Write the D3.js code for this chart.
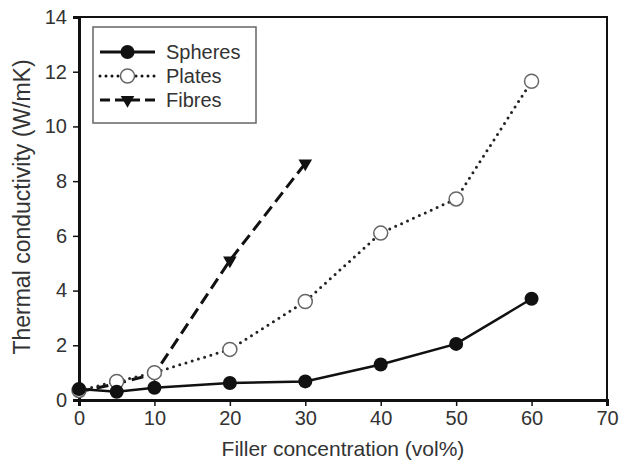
<!DOCTYPE html>
<html>
<head>
<meta charset="utf-8">
<script src="https://cdn.jsdelivr.net/npm/d3@7"></script>
<style>
  body { margin: 0; background: #fff; }
  text { font-family: "Liberation Sans", Arial, sans-serif; fill: #222; }
</style>
</head>
<body>
<div id="chart"></div>
<script>
// data
const xTicks = [0, 10, 20, 30, 40, 50, 60, 70];
const yTicks = [0, 2, 4, 6, 8, 10, 12, 14];

const spheresX = [0, 5, 10, 20, 30, 40, 50, 60];
const spheresY = [0.4, 0.3, 0.45, 0.62, 0.68, 1.3, 2.05, 3.7];

const platesX = [0, 5, 10, 20, 30, 40, 50, 60];
const platesY = [0.35, 0.68, 1.0, 1.85, 3.6, 6.1, 7.35, 11.65];

const fibresX = [0, 5, 10, 20, 30];
const fibresY = [0.3, 0.6, 0.95, 5.1, 8.65];

const seriesNames = ['Spheres', 'Plates', 'Fibres'];

const width = 621, height = 465;
const margin = { left: 79, right: 14, top: 17, bottom: 65 };

const svg = d3.select('#chart')
  .append('svg')
  .attr('width', width)
  .attr('height', height);

const x = d3.scaleLinear().domain([0, 70]).range([margin.left, width - margin.right]);
const y = d3.scaleLinear().domain([0, 14]).range([height - margin.bottom, margin.top]);

// cadre (haut/droite plus fins)
svg.append('rect')
  .attr('x', x(0)).attr('y', y(14))
  .attr('width', x(70) - x(0)).attr('height', y(0) - y(14))
  .style('fill', 'none').style('stroke', '#111').style('stroke-width', 2);

// axes
const xAxis = svg.append('g')
  .attr('transform', `translate(0, ${y(0)})`)
  .call(d3.axisBottom(x).tickValues(xTicks).tickSize(6).tickPadding(5));
const yAxis = svg.append('g')
  .attr('transform', `translate(${x(0)}, 0)`)
  .call(d3.axisLeft(y).tickValues(yTicks).tickSize(6).tickPadding(6));

[xAxis, yAxis].forEach(g => {
  g.select('.domain').style('stroke', '#111').style('stroke-width', 3);
  g.selectAll('.tick line').style('stroke', '#111').style('stroke-width', 1.5);
  g.selectAll('.tick text').style('font-size', '20px').style('fill', '#333');
});

// titres des axes
svg.append('text')
  .attr('x', (x(0) + x(70)) / 2)
  .attr('y', 456)
  .style('text-anchor', 'middle')
  .style('font-size', '21px')
  .style('fill', '#333')
  .text('Filler concentration (vol%)');

svg.append('text')
  .attr('transform', 'rotate(-90)')
  .attr('x', -207)
  .attr('y', 30)
  .style('text-anchor', 'middle')
  .style('font-size', '23px')
  .style('fill', '#333')
  .text('Thermal conductivity (W/mK)');

const line = d3.line().x(d => x(d[0])).y(d => y(d[1]));
const spheres = d3.zip(spheresX, spheresY);
const plates = d3.zip(platesX, platesY);
const fibres = d3.zip(fibresX, fibresY);

const tri = d3.symbol().type(d3.symbolTriangle).size(80);

// Fibres (tirets)
svg.append('path').datum(fibres).attr('d', line)
  .style('fill', 'none').style('stroke', '#111').style('stroke-width', 3)
  .style('stroke-dasharray', '12,6');
svg.selectAll('path.fib').data(fibres).enter().append('path')
  .attr('class', 'fib')
  .attr('d', tri)
  .attr('transform', d => `translate(${x(d[0])},${y(d[1])}) rotate(180)`)
  .style('fill', '#111');

// Plates (pointillés)
svg.append('path').datum(plates).attr('d', line)
  .style('fill', 'none').style('stroke', '#222').style('stroke-width', 3)
  .style('stroke-linecap', 'round')
  .style('stroke-dasharray', '0,6.5');
svg.selectAll('circle.plate').data(plates).enter().append('circle')
  .attr('class', 'plate')
  .attr('cx', d => x(d[0])).attr('cy', d => y(d[1])).attr('r', 7)
  .style('fill', '#fff').style('stroke', '#666').style('stroke-width', 1.5);

// Spheres (trait plein)
svg.append('path').datum(spheres).attr('d', line)
  .style('fill', 'none').style('stroke', '#111').style('stroke-width', 2.5);
svg.selectAll('circle.sph').data(spheres).enter().append('circle')
  .attr('class', 'sph')
  .attr('cx', d => x(d[0])).attr('cy', d => y(d[1])).attr('r', 7)
  .style('fill', '#111');

// légende
const legend = svg.append('g').attr('transform', 'translate(93, 27)');
legend.append('rect')
  .attr('width', 163).attr('height', 96)
  .style('fill', '#fff').style('stroke', '#666').style('stroke-width', 1.5);

const rowY = [25, 49, 73];
seriesNames.forEach((name, i) => {
  const row = legend.append('g').attr('transform', `translate(0, ${rowY[i]})`);
  const ln = row.append('line')
    .attr('x1', 7).attr('x2', 62).attr('y1', 0).attr('y2', 0)
    .style('stroke', '#111').style('stroke-width', 3);
  if (i === 1) ln.style('stroke-dasharray', '0,6').style('stroke-linecap', 'round');
  if (i === 2) ln.style('stroke-dasharray', '10,5');
  if (i === 0) {
    row.append('circle').attr('cx', 34.5).attr('r', 7).style('fill', '#111');
  } else if (i === 1) {
    row.append('circle').attr('cx', 34.5).attr('r', 7)
      .style('fill', '#fff').style('stroke', '#666').style('stroke-width', 1.5);
  } else {
    row.append('path').attr('d', tri)
      .attr('transform', 'translate(34.5,0) rotate(180)').style('fill', '#111');
  }
  row.append('text')
    .attr('x', 73).attr('y', 7)
    .style('font-size', '20px')
    .style('fill', '#333')
    .text(name);
});
</script>
</body>
</html>
